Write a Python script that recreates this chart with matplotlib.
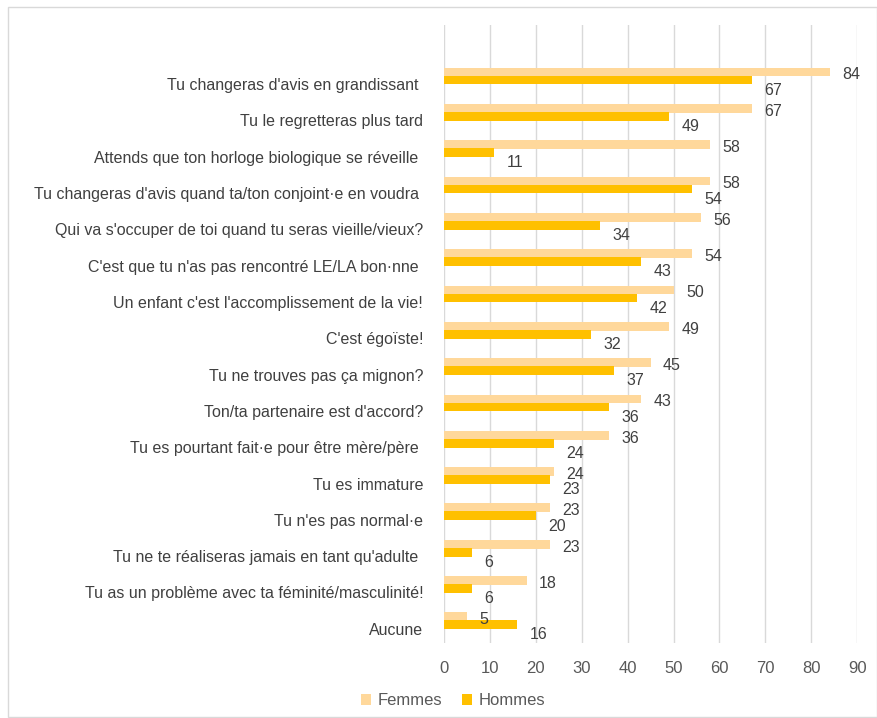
import matplotlib.pyplot as plt
from matplotlib.patches import Rectangle
import numpy as np

plt.rcParams['font.family'] = ['Liberation Sans', 'DejaVu Sans']

categories = [
    "Tu changeras d'avis en grandissant ",
    "Tu le regretteras plus tard",
    "Attends que ton horloge biologique se réveille ",
    "Tu changeras d'avis quand ta/ton conjoint·e en voudra ",
    "Qui va s'occuper de toi quand tu seras vieille/vieux?",
    "C'est que tu n'as pas rencontré LE/LA bon·nne ",
    "Un enfant c'est l'accomplissement de la vie!",
    "C'est égoïste!",
    "Tu ne trouves pas ça mignon?",
    "Ton/ta partenaire est d'accord?",
    "Tu es pourtant fait·e pour être mère/père ",
    "Tu es immature",
    "Tu n'es pas normal·e",
    "Tu ne te réaliseras jamais en tant qu'adulte ",
    "Tu as un problème avec ta féminité/masculinité!",
    "Aucune",
]
femmes = [84, 67, 58, 58, 56, 54, 50, 49, 45, 43, 36, 24, 23, 23, 18, 5]
hommes = [67, 49, 11, 54, 34, 43, 42, 32, 37, 36, 24, 23, 20, 6, 6, 16]

col_f = '#FFD89B'
col_h = '#FFC000'
txt = '#404040'

fig = plt.figure(figsize=(8.78, 7.18), dpi=100)
ax = fig.add_axes([0.5057, 0.1045, 0.4705, 0.8605])

y = np.arange(len(categories))
h = 0.24
ax.barh(y - 0.33, femmes, height=h, color=col_f, label='Femmes', zorder=2)
ax.barh(y - 0.11, hommes, height=h, color=col_h, label='Hommes', zorder=3)

for i in range(len(categories)):
    ax.text(femmes[i] + 2.7, y[i] - 0.25, str(femmes[i]), va='center', ha='left',
            fontsize=11.5, color=txt)
    ax.text(hommes[i] + 2.7, y[i] + 0.17, str(hommes[i]), va='center', ha='left',
            fontsize=11.5, color=txt)

ax.set_xlim(0, 90)
ax.set_xticks(range(0, 91, 10))
ax.set_ylim(15.39, -1.62)
ax.set_yticks(y)
ax.set_yticklabels(categories, fontsize=11.5, color=txt)
ax.tick_params(axis='y', length=0, pad=15)
ax.tick_params(axis='x', length=0, pad=13, labelsize=12, labelcolor='#595959')
ax.grid(axis='x', color='#D9D9D9', linewidth=1, zorder=0)
ax.set_axisbelow(True)
for s in ax.spines.values():
    s.set_visible(False)

fig.legend(loc='center', bbox_to_anchor=(0.516, 0.024), ncol=2, frameon=False,
           fontsize=12, labelcolor='#595959', handlelength=0.6, handleheight=0.6,
           handletextpad=0.4, columnspacing=1.2)

fig.patches.append(Rectangle((0.009, 0.001), 0.99, 0.989, transform=fig.transFigure,
                             fill=False, edgecolor='#D9D9D9', linewidth=1))

fig.savefig('out.png', dpi=100)
